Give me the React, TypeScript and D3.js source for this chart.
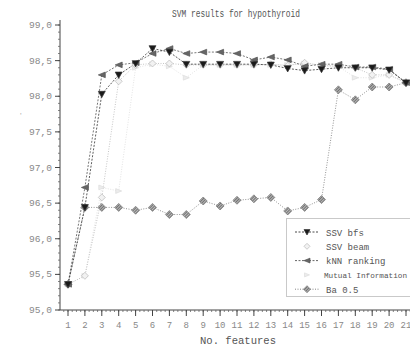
import * as d3 from "d3";

const features = [1, 2, 3, 4, 5, 6, 7, 8, 9, 10, 11, 12, 13, 14, 15, 16, 17, 18, 19, 20, 21];

const ssvBfs = [95.36, 96.44, 98.03, 98.3, 98.46, 98.67, 98.62, 98.45, 98.45, 98.45, 98.45, 98.45, 98.44, 98.39, 98.36, 98.38, 98.4, 98.4, 98.4, 98.37, 98.19];
const ssvBeam = [95.36, 95.48, 96.58, 98.21, 98.44, 98.46, 98.46, 98.44, 98.44, 98.44, 98.44, 98.44, 98.45, 98.43, 98.47, 98.43, 98.42, 98.4, 98.3, 98.3, 98.19];
const knnRanking = [95.36, 96.72, 98.3, 98.44, 98.47, 98.6, 98.67, 98.6, 98.62, 98.62, 98.6, 98.51, 98.55, 98.51, 98.42, 98.45, 98.45, 98.41, 98.41, 98.38, 98.19];
const mutualInfo = [95.36, 95.48, 96.72, 96.67, 98.4, 98.45, 98.42, 98.26, 98.44, 98.44, 98.44, 98.44, 98.44, 98.44, 98.46, 98.44, 98.42, 98.26, 98.26, 98.3, 98.19];
const ba05 = [95.36, 96.44, 96.44, 96.44, 96.4, 96.44, 96.34, 96.34, 96.53, 96.46, 96.54, 96.56, 96.58, 96.39, 96.44, 96.55, 98.09, 97.95, 98.13, 98.13, 98.19];

const yTicks = [95.0, 95.5, 96.0, 96.5, 97.0, 97.5, 98.0, 98.5, 99.0];
const seriesNames = ["SSV bfs", "SSV beam", "kNN ranking", "Mutual Information", "Ba 0.5"];

const W = 410;
const H = 353;
const FONT = "'Liberation Mono', 'DejaVu Sans Mono', monospace";

type Shape = "down" | "left" | "right" | "diamond";

interface Series {
  name: string;
  values: number[];
  color: string;
  fill: string;
  dash: string;
  shape: Shape;
  size: number;
  legendLine: boolean;
}

// drawing order: light series first, bfs on top
const series: Series[] = [
  { name: seriesNames[3], values: mutualInfo, color: "#dcdcdc", fill: "#ececec", dash: "1,1.5", shape: "right", size: 6, legendLine: false },
  { name: seriesNames[1], values: ssvBeam, color: "#b8b8b8", fill: "#f2f2f2", dash: "1,1.5", shape: "diamond", size: 7, legendLine: false },
  { name: seriesNames[4], values: ba05, color: "#777", fill: "url(#hatch)", dash: "1,1.5", shape: "diamond", size: 8, legendLine: true },
  { name: seriesNames[2], values: knnRanking, color: "#555", fill: "#666", dash: "2,1.5", shape: "left", size: 7, legendLine: true },
  { name: seriesNames[0], values: ssvBfs, color: "#333", fill: "#1a1a1a", dash: "2,1.5", shape: "down", size: 7, legendLine: true },
];

function markerPath(shape: Shape, s: number) {
  const h = s / 2;
  switch (shape) {
    case "down":
      return `M${-h},${-h * 0.8}L${h},${-h * 0.8}L0,${h}Z`;
    case "left":
      return `M${-h},0L${h},${-h * 0.8}L${h},${h * 0.8}Z`;
    case "right":
      return `M${h},0L${-h},${-h * 0.8}L${-h},${h * 0.8}Z`;
    default:
      return `M0,${-h}L${h},0L0,${h}L${-h},0Z`;
  }
}

export default function App() {
  const x = d3.scaleLinear().domain([1, 21]).range([68, 406]);
  const y = d3.scaleLinear().domain([95, 99]).range([310, 25]);
  const x0 = 60;
  const y0 = 310;

  const line = d3
    .line<number>()
    .x((_, i) => x(features[i]))
    .y((d) => y(d));

  const minorY = d3.range(95, 99.001, 0.1);
  const minorX = d3.range(0.75, 21.4, 0.25);

  // legend order as in the original
  const legendRows = [series[4], series[1], series[3], series[0], series[2]];

  return (
    <div style={{ position: "absolute", left: 0, top: 0 }}>
      <svg width={W} height={H} style={{ display: "block", background: "#fff" }}>
        <defs>
          <pattern id="hatch" width="2" height="2" patternUnits="userSpaceOnUse" patternTransform="rotate(45)">
            <rect width="2" height="2" fill="#bbb" />
            <line x1="0" y1="0" x2="0" y2="2" stroke="#333" strokeWidth="1.1" />
          </pattern>
        </defs>

        {/* title */}
        <text x={236} y={17} textAnchor="middle" fontFamily={FONT} fontSize={10} fill="#555" textLength={128} lengthAdjust="spacingAndGlyphs">
          SVM results for hypothyroid
        </text>

        <text x={19} y={117} fontFamily={FONT} fontSize={6} fill="#999">'</text>

        {/* y axis */}
        <line x1={x0} x2={x0} y1={20} y2={y0} stroke="#444" strokeWidth={1} />
        {minorY.map((v, i) => (
          <line key={"my" + i} x1={x0 - 2} x2={x0} y1={y(v)} y2={y(v)} stroke="#666" strokeWidth={0.8} />
        ))}
        {yTicks.map((v) => (
          <g key={"yt" + v}>
            <line x1={x0 - 5} x2={x0} y1={y(v)} y2={y(v)} stroke="#444" strokeWidth={1} />
            <text x={52} y={y(v) + 3} textAnchor="end" fontFamily={FONT} fontSize={9} fill="#888" textLength={23} lengthAdjust="spacingAndGlyphs">
              {v.toFixed(1).replace(".", ",")}
            </text>
          </g>
        ))}

        {/* x axis */}
        <line x1={x0} x2={W} y1={y0} y2={y0} stroke="#444" strokeWidth={1} />
        {minorX.map((v, i) => (
          <line key={"mx" + i} x1={x(v)} x2={x(v)} y1={y0} y2={y0 + 2} stroke="#666" strokeWidth={0.8} />
        ))}
        {features.map((f) => (
          <g key={"xt" + f}>
            <line x1={x(f)} x2={x(f)} y1={y0} y2={y0 + 6} stroke="#444" strokeWidth={1} />
            <text x={x(f)} y={y0 + 18} textAnchor="middle" fontFamily={FONT} fontSize={9} fill="#888">
              {f}
            </text>
          </g>
        ))}
        <text x={238} y={344} textAnchor="middle" fontFamily={FONT} fontSize={11} fill="#555" textLength={76} lengthAdjust="spacingAndGlyphs">
          No. features
        </text>

        {/* lines */}
        {series.map((s) => (
          <path key={"l" + s.name} d={line(s.values) ?? ""} fill="none" stroke={s.color} strokeWidth={0.8} strokeDasharray={s.dash} />
        ))}
        {/* markers */}
        {series.map((s) => (
          <g key={"m" + s.name}>
            {s.values.map((v, i) => (
              <path
                key={i}
                d={markerPath(s.shape, s.size)}
                transform={`translate(${x(features[i])},${y(v)})`}
                fill={s.fill}
                stroke={s.color}
                strokeWidth={0.7}
              />
            ))}
          </g>
        ))}

        {/* legend */}
        <rect x={286.5} y={218.5} width={140} height={78} fill="#fff" stroke="#777" strokeWidth={0.8} strokeDasharray="1,1" />
        {legendRows.map((s, i) => {
          const ly = 232 + i * 14.3;
          const label = s.name;
          const long = label.length > 12;
          return (
            <g key={"lg" + s.name}>
              {s.legendLine && (
                <line x1={295} x2={319} y1={ly} y2={ly} stroke={s.color} strokeWidth={0.9} strokeDasharray={s.dash} />
              )}
              <path d={markerPath(s.shape, s.size - 1)} transform={`translate(307,${ly})`} fill={s.fill} stroke={s.color} strokeWidth={0.7} />
              <text x={long ? 324 : 326} y={ly + 3.5} fontFamily={FONT} fontSize={long ? 7.7 : 9} fill="#555">
                {label}
              </text>
            </g>
          );
        })}
      </svg>
    </div>
  );
}
